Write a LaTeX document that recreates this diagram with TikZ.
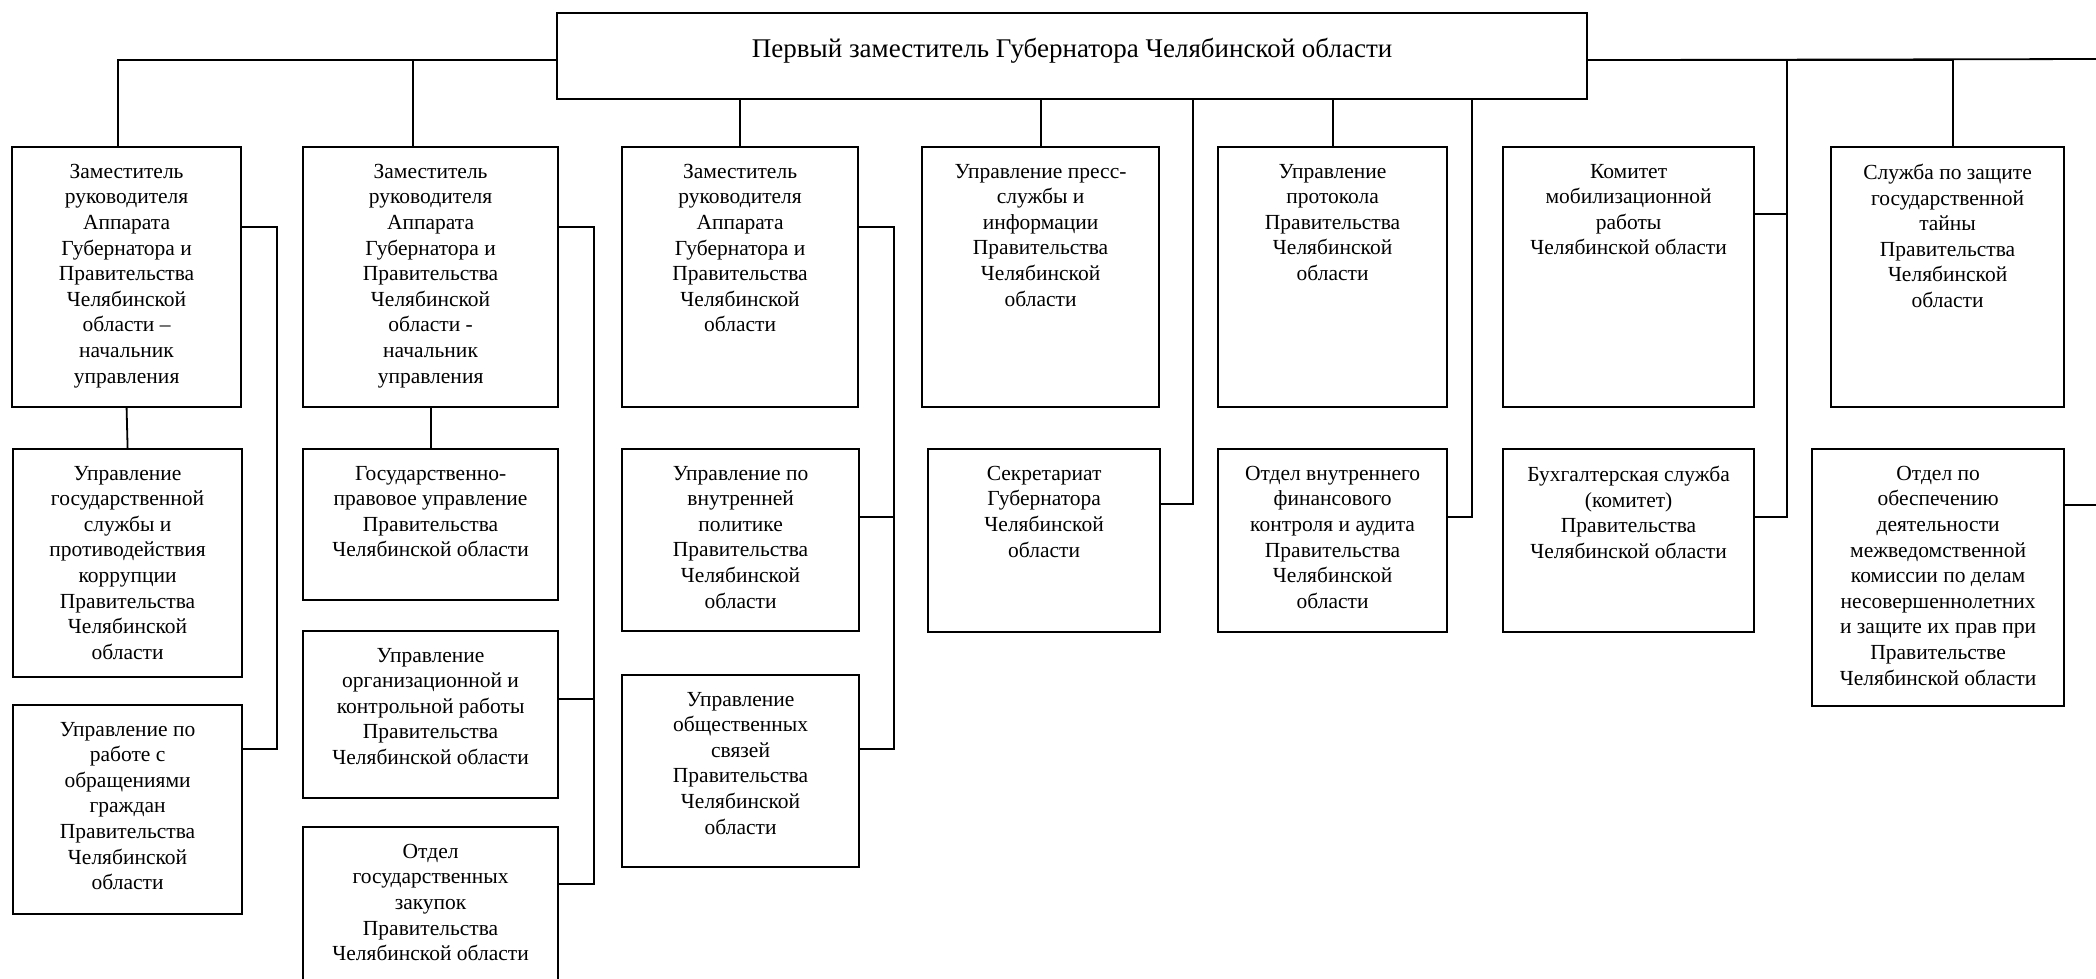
\documentclass[tikz,border=0pt]{standalone}
\usepackage{fontspec}
\setmainfont{Liberation Serif}

\begin{document}
\begin{tikzpicture}
            [
                x=1pt, y=-1pt,
                dept/.style 2 args={draw, line width=2.2pt, anchor=north west, inner sep=0pt,
                    font=\fontsize{21.5pt}{25.6pt}\selectfont,
                    execute at begin node={\begin{minipage}[t][#2][t]{#1}\centering\vspace*{17pt}},
                    execute at end node={\end{minipage}}},
                chief/.style={draw, line width=2.2pt, anchor=north west, inner sep=0pt,
                    minimum width=1030pt, minimum height=86pt, text depth=17pt,
                    font=\fontsize{27pt}{32pt}\selectfont},
                link/.style={line width=1.8pt}
            ]
            \useasboundingbox (0,0) rectangle (2096,979);
            \clip (0,0) rectangle (2096,979);

            \node[chief] (first) at (556,12) {Первый заместитель Губернатора Челябинской области};

            % first row
            \node[dept={229pt}{260pt}] (zam1) at (11,146) {Заместитель\\руководителя\\Аппарата\\Губернатора и\\Правительства\\Челябинской\\области –\\начальник\\управления};
            \node[dept={255pt}{260pt}] (zam2) at (302,146) {Заместитель\\руководителя\\Аппарата\\Губернатора и\\Правительства\\Челябинской\\области -\\начальник\\управления};
            \node[dept={236pt}{260pt}] (zam3) at (621,146) {Заместитель\\руководителя\\Аппарата\\Губернатора и\\Правительства\\Челябинской\\области};
            \node[dept={237pt}{260pt}] (press) at (921,146) {Управление пресс-\\службы и\\информации\\Правительства\\Челябинской\\области};
            \node[dept={229pt}{260pt}] (protocol) at (1217,146) {Управление\\протокола\\Правительства\\Челябинской\\области};
            \node[dept={251pt}{260pt}] (mobil) at (1502,146) {Комитет\\мобилизационной\\работы\\Челябинской области};
            \node[dept={233pt}{260pt}] (secret) at (1830,146) {Служба по защите\\государственной\\тайны\\Правительства\\Челябинской\\области};

            % lower rows
            \node[dept={229pt}{228pt}] (gossl) at (12,448) {Управление\\государственной\\службы и\\противодействия\\коррупции\\Правительства\\Челябинской\\области};
            \node[dept={229pt}{209pt}] (obrasch) at (12,704) {Управление по\\работе с\\обращениями\\граждан\\Правительства\\Челябинской\\области};
            \node[dept={255pt}{151pt}] (pravo) at (302,448) {Государственно-\\правовое управление\\Правительства\\Челябинской области};
            \node[dept={255pt}{167pt}] (orgctrl) at (302,630) {Управление\\организационной и\\контрольной работы\\Правительства\\Челябинской области};
            \node[dept={255pt}{200pt}] (zakup) at (302,826) {Отдел\\государственных\\закупок\\Правительства\\Челябинской области};
            \node[dept={237pt}{182pt}] (vnutr) at (621,448) {Управление по\\внутренней\\политике\\Правительства\\Челябинской\\области};
            \node[dept={237pt}{192pt}] (obsch) at (621,674) {Управление\\общественных\\связей\\Правительства\\Челябинской\\области};
            \node[dept={232pt}{183pt}] (sekr) at (927,448) {Секретариат\\Губернатора\\Челябинской\\области};
            \node[dept={229pt}{183pt}] (audit) at (1217,448) {Отдел внутреннего\\финансового\\контроля и аудита\\Правительства\\Челябинской\\области};
            \node[dept={251pt}{183pt}] (buh) at (1502,448) {Бухгалтерская служба\\(комитет)\\Правительства\\Челябинской области};
            \node[dept={252pt}{257pt}] (minor) at (1811,448) {Отдел по\\обеспечению\\деятельности\\межведомственной\\комиссии по делам\\несовершеннолетних\\и защите их прав при\\Правительстве\\Челябинской области};

            % connectors
            \coordinate (hubL) at ([yshift=-4pt]first.west);
            \coordinate (hubR) at ([yshift=-4pt]first.east);
            \coordinate (offR1) at (2100,59);
            \coordinate (offR2) at (2100,505);

            \draw[link] (hubL) -| ([xshift=-9pt]zam1.north);
            \draw[link] ([xshift=-18pt]zam2.north) |- (hubL);
            \draw[link] (zam3.north) -- (zam3.north |- first.south);
            \draw[link] (press.north) -- (press.north |- first.south);
            \draw[link] (protocol.north) -- (protocol.north |- first.south);
            \draw[link] (hubR) -- (offR1);
            \draw[link] ([xshift=5pt]secret.north) |- (hubR);

            \draw[link] (zam1.south) -- (gossl.north);
            \draw[link] (zam2.south) -- (pravo.north);

            \draw[link] ([yshift=-81pt]zam1.north east) -- ++(35,0) |- ([yshift=-45pt]obrasch.north east);
            \draw[link] ([yshift=-81pt]zam2.north east) -- ++(35,0) |- ([yshift=-58pt]zakup.north east);
            \draw[link] ([yshift=-69pt]orgctrl.north east) -- ++(35,0);
            \draw[link] ([yshift=-81pt]zam3.north east) -- ++(35,0) |- ([yshift=-75pt]obsch.north east);
            \draw[link] ([yshift=-69pt]vnutr.north east) -- ++(35,0);
            \draw[link] ([yshift=-56pt]sekr.north east) -- ++(32,0) coordinate (s1) -- (s1 |- first.south);
            \draw[link] ([yshift=-69pt]audit.north east) -- ++(24,0) coordinate (s2) -- (s2 |- first.south);
            \draw[link] ([yshift=-69pt]buh.north east) -- ++(32,0) coordinate (s3) -- (s3 |- hubR);
            \draw[link] ([yshift=-68pt]mobil.north east) -- ++(32,0);
            \draw[link] ([yshift=-57pt]minor.north east) -- (offR2);
        \end{tikzpicture}
\end{document}
